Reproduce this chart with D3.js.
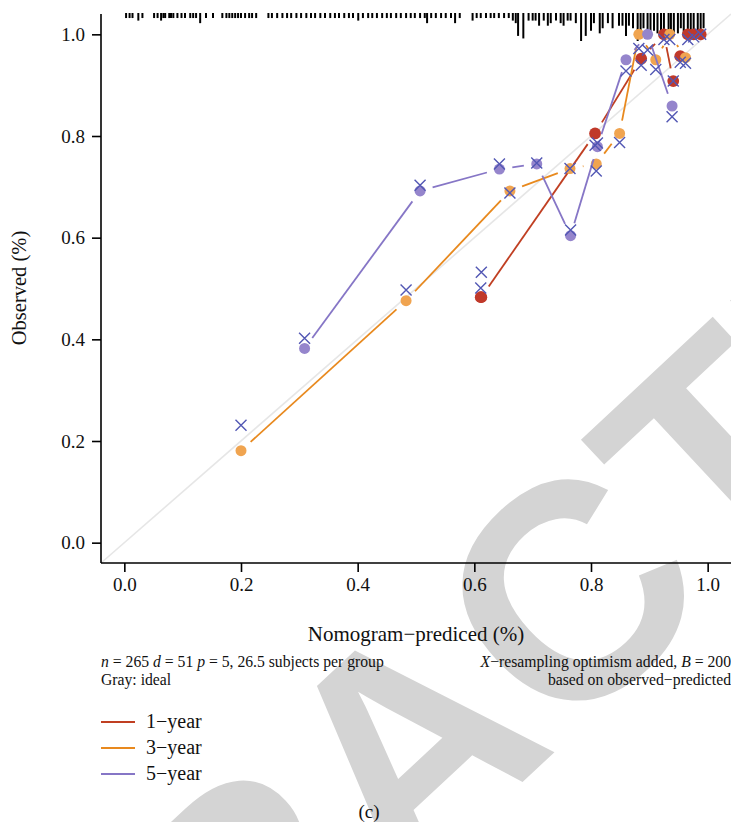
<!DOCTYPE html>
<html lang="en">
<head>
<meta charset="UTF-8">
<title>calibration (c)</title>
<script src="https://d3js.org/d3.v7.min.js"></script>
<style>
  * { margin: 0; padding: 0; }
  body { background: #fff; }
  svg { display: block; font-family: "Liberation Serif", "Times New Roman", serif; }
</style>
</head>
<body>
<script>
// nomogram-predicted (x), observed (circles), optimism-corrected (crosses)
var pred1 = [0.611, 0.612, 0.807, 0.886, 0.925, 0.941, 0.953, 0.966, 0.976, 0.988];
var obs1  = [0.483, 0.483, 0.805, 0.952, 1.000, 0.908, 0.957, 1.000, 1.000, 1.000];
var corr1 = [0.501, 0.532, 0.782, 0.939, 0.990, 0.908, 0.945, 0.990, 0.995, 1.000];

var pred3 = [0.200, 0.483, 0.661, 0.764, 0.809, 0.849, 0.882, 0.911, 0.935, 0.962];
var obs3  = [0.181, 0.476, 0.692, 0.736, 0.745, 0.805, 1.000, 0.950, 1.000, 0.954];
var corr3 = [0.231, 0.497, 0.688, 0.736, 0.731, 0.787, 0.972, 0.931, 0.990, 0.943];

var pred5 = [0.309, 0.507, 0.643, 0.707, 0.765, 0.811, 0.860, 0.897, 0.939];
var obs5  = [0.382, 0.692, 0.735, 0.745, 0.604, 0.779, 0.950, 1.000, 0.859];
var corr5 = [0.402, 0.703, 0.745, 0.747, 0.615, 0.786, 0.928, 0.969, 0.838];

// spike histogram of predicted values (top rug)
var rugP = [0.003, 0.009, 0.014, 0.024, 0.031, 0.051, 0.057, 0.063, 0.067, 0.070,
            0.077, 0.080, 0.084, 0.091, 0.098, 0.104, 0.113, 0.118, 0.123, 0.130,
            0.140, 0.152, 0.168, 0.175, 0.180, 0.185, 0.190, 0.195, 0.200, 0.207,
            0.214, 0.219, 0.226, 0.247, 0.253, 0.262, 0.271, 0.279, 0.286, 0.295,
            0.303, 0.312, 0.320, 0.327, 0.336, 0.344, 0.353, 0.361, 0.368, 0.377,
            0.385, 0.392, 0.401, 0.409, 0.418, 0.425, 0.433, 0.442, 0.450, 0.457,
            0.466, 0.474, 0.483, 0.491, 0.498, 0.507, 0.515, 0.519, 0.526, 0.534,
            0.543, 0.551, 0.560, 0.567, 0.575, 0.597, 0.604, 0.611, 0.620, 0.628,
            0.634, 0.642, 0.651, 0.659, 0.666, 0.671, 0.675, 0.684, 0.693, 0.700,
            0.705, 0.711, 0.719, 0.726, 0.731, 0.740, 0.748, 0.753, 0.760, 0.765,
            0.774, 0.783, 0.791, 0.800, 0.805, 0.815, 0.820, 0.829, 0.837, 0.848,
            0.854, 0.860, 0.865, 0.872, 0.880, 0.885, 0.890, 0.897, 0.902, 0.908,
            0.914, 0.920, 0.925, 0.933, 0.937, 0.942, 0.949, 0.954, 0.959, 0.966,
            0.971, 0.976, 0.983, 0.988, 0.993];
var rugN = [1, 1, 1, 2, 1, 1, 1, 2, 1, 1,
            1, 1, 1, 1, 1, 1, 1, 1, 1, 3,
            1, 1, 1, 1, 1, 1, 1, 1, 1, 1,
            1, 1, 1, 1, 1, 1, 1, 1, 1, 1,
            1, 1, 1, 1, 1, 1, 1, 1, 1, 1,
            1, 1, 2, 1, 1, 1, 1, 1, 1, 1,
            1, 1, 1, 1, 1, 1, 1, 3, 1, 1,
            1, 1, 1, 3, 1, 2, 1, 1, 1, 1,
            1, 1, 1, 1, 2, 3, 8, 9, 2, 2,
            2, 4, 2, 4, 3, 2, 3, 4, 2, 2,
            3, 10, 8, 6, 3, 7, 5, 3, 5, 4,
            4, 8, 4, 5, 10, 6, 5, 7, 6, 6,
            7, 6, 8, 7, 8, 8, 7, 5, 8, 8,
            6, 6, 7, 7, 5];

var xTicks = [0, 0.2, 0.4, 0.6, 0.8, 1.0];
var yTicks = [0, 0.2, 0.4, 0.6, 0.8, 1.0];
var legendLabels = ["1\u2212year", "3\u2212year", "5\u2212year"];

var width = 731, height = 822;
var lineCol = ["#c03f22", "#e8891e", "#8676c6"];
var dotCol = ["#c0392a", "#f0a450", "#9585cc"];
var crossCol = "#5257b4";

var svg = d3.select("body").append("svg")
    .attr("width", width).attr("height", height);

// watermark (behind everything)
var wm = svg.append("g")
    .attr("transform", "translate(722,596) rotate(-43)")
    .style("font-family", "'Liberation Sans', Arial, sans-serif")
    .style("font-weight", "bold")
    .style("font-size", "306px")
    .style("fill", "#d4d4d4");
wm.append("text").attr("text-anchor", "end").text("RETRAC");
wm.append("text").attr("text-anchor", "start").text("TED");

var x = d3.scaleLinear().domain([-0.04, 1.04]).range([101, 731]);
var y = d3.scaleLinear().domain([-0.04, 1.04]).range([563, 14]);

// ideal line
svg.append("line")
    .attr("x1", x(-0.04)).attr("y1", y(-0.04))
    .attr("x2", x(1.04)).attr("y2", y(1.04))
    .attr("stroke", "#e6e6e6").attr("stroke-width", 1.6);

// rug spikes from top
var rugH = d3.scaleLinear().domain([0, 10]).range([1.5, 27]);
svg.selectAll("line.rug")
    .data(rugP)
    .enter().append("line")
    .attr("class", "rug")
    .attr("x1", function(d) { return x(d); })
    .attr("x2", function(d) { return x(d); })
    .attr("y1", y(1.04) - 1)
    .attr("y2", function(d, i) { return y(1.04) + rugH(rugN[i]); })
    .attr("stroke", "#000").attr("stroke-width", 2);

// axes
var xAxis = svg.append("g").attr("transform", "translate(0,563)")
    .call(d3.axisBottom(x).tickValues(xTicks).tickFormat(d3.format(".1f")).tickSize(9).tickPadding(6));
var yAxis = svg.append("g").attr("transform", "translate(101,0)")
    .call(d3.axisLeft(y).tickValues(yTicks).tickFormat(d3.format(".1f")).tickSize(9).tickPadding(7));
[xAxis, yAxis].forEach(function(a) {
    a.select(".domain").attr("stroke", "#000").attr("stroke-width", 1.6);
    a.selectAll(".tick line").attr("stroke", "#000").attr("stroke-width", 1.6);
    a.selectAll(".tick text").attr("fill", "#111")
        .style("font-family", "'Liberation Serif', serif").style("font-size", "19px");
});
// L-shaped frame: y axis runs down to the x axis
yAxis.select(".domain").attr("d", "M0,14V563");
xAxis.select(".domain").attr("d", "M101,0H731");

// series lines (type "b": gaps around points)
function gapSegs(px, py, gap) {
    var out = [];
    for (var i = 0; i < px.length - 1; i++) {
        var x1 = x(px[i]), y1 = y(py[i]), x2 = x(px[i + 1]), y2 = y(py[i + 1]);
        var dx = x2 - x1, dy = y2 - y1, len = Math.sqrt(dx * dx + dy * dy);
        if (len <= 2 * gap) continue;
        var ux = dx / len, uy = dy / len;
        out.push([x1 + ux * gap, y1 + uy * gap, x2 - ux * gap, y2 - uy * gap]);
    }
    return out;
}

var series = [
    {p: pred1, o: obs1, c: corr1},
    {p: pred3, o: obs3, c: corr3},
    {p: pred5, o: obs5, c: corr5}
];

series.forEach(function(s, k) {
    svg.append("g").selectAll("line")
        .data(gapSegs(s.p, s.o, 13))
        .enter().append("line")
        .attr("x1", function(d) { return d[0]; })
        .attr("y1", function(d) { return d[1]; })
        .attr("x2", function(d) { return d[2]; })
        .attr("y2", function(d) { return d[3]; })
        .attr("stroke", lineCol[k]).attr("stroke-width", 1.8);
    svg.append("g").selectAll("circle")
        .data(s.p)
        .enter().append("circle")
        .attr("cx", function(d) { return x(d); })
        .attr("cy", function(d, i) { return y(s.o[i]); })
        .attr("r", k === 0 ? 5.9 : 5.5)
        .attr("fill", dotCol[k]);
});

series.forEach(function(s) {
    svg.append("g").selectAll("path")
        .data(s.p)
        .enter().append("path")
        .attr("transform", function(d, i) { return "translate(" + x(d) + "," + y(s.c[i]) + ")"; })
        .attr("d", "M-5.5,-5.5L5.5,5.5M-5.5,5.5L5.5,-5.5")
        .attr("stroke", crossCol).attr("stroke-width", 1.4).attr("fill", "none");
});

// axis titles
svg.append("text")
    .attr("x", 416).attr("y", 641)
    .attr("text-anchor", "middle")
    .style("font-size", "21px").attr("fill", "#111")
    .text("Nomogram\u2212prediced (%)");
svg.append("text")
    .attr("transform", "translate(26,288) rotate(-90)")
    .attr("text-anchor", "middle")
    .style("font-size", "20.5px").attr("fill", "#111")
    .text("Observed (%)");

// subtitles
var sub = svg.append("g").style("font-size", "15.7px").attr("fill", "#111");
var s1 = sub.append("text").attr("x", 101).attr("y", 667);
s1.append("tspan").style("font-style", "italic").text("n");
s1.append("tspan").text(" = 265 ");
s1.append("tspan").style("font-style", "italic").text("d");
s1.append("tspan").text(" = 51 ");
s1.append("tspan").style("font-style", "italic").text("p");
s1.append("tspan").text(" = 5, 26.5 subjects per group");
sub.append("text").attr("x", 101).attr("y", 685).text("Gray: ideal");
var s2 = sub.append("text").attr("x", 731).attr("y", 667).attr("text-anchor", "end");
s2.append("tspan").style("font-style", "italic").text("X");
s2.append("tspan").text("\u2212resampling optimism added, ");
s2.append("tspan").style("font-style", "italic").text("B");
s2.append("tspan").text(" = 200");
sub.append("text").attr("x", 731).attr("y", 685).attr("text-anchor", "end")
    .text("based on observed\u2212predicted");

// legend
var leg = svg.append("g").selectAll("g")
    .data(legendLabels)
    .enter().append("g")
    .attr("transform", function(d, i) { return "translate(101," + (722 + i * 26) + ")"; });
leg.append("line").attr("x1", 0).attr("x2", 34)
    .attr("stroke", function(d, i) { return lineCol[i]; }).attr("stroke-width", 2);
leg.append("text").attr("x", 45).attr("y", 6)
    .style("font-size", "20px").attr("fill", "#111")
    .text(function(d) { return d; });

svg.append("text").attr("x", 369).attr("y", 818).attr("text-anchor", "middle")
    .style("font-size", "19px").attr("fill", "#111").text("(c)");
</script>
</body>
</html>
